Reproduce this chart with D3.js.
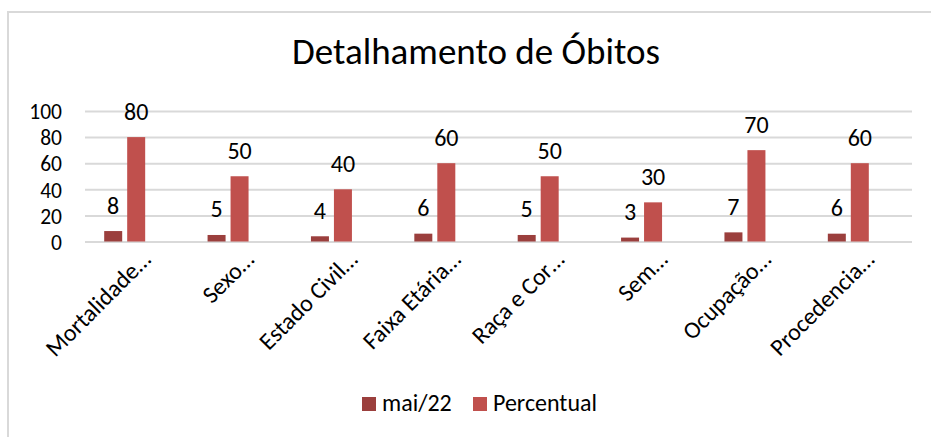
<!DOCTYPE html>
<html><head><meta charset="utf-8">
<script src="https://cdn.jsdelivr.net/npm/d3@7/dist/d3.min.js"></script>
<style>
html,body{margin:0;padding:0;background:#fff;}
svg text{font-family:Carlito, Calibri, Lato, "Open Sans", sans-serif;fill:#000;}
</style></head>
<body><svg id="chart" width="931" height="437"></svg>
<script>
const title = "Detalhamento de Óbitos";
const categories = ["Mortalidade…","Sexo…","Estado Civil…","Faixa Etária…","Raça e Cor…","Sem…","Ocupação…","Procedencia…"];
const seriesNames = ["mai/22","Percentual"];
const mai22 = [8,5,4,6,5,3,7,6];
const percentual = [80,50,40,60,50,30,70,60];
const yTicks = [0,20,40,60,80,100];
const colors = ["#9b3f3d","#c0504d"];

const svg = d3.select("#chart");
svg.append("rect").attr("x",8).attr("y",12).attr("width",940).attr("height",440)
  .attr("fill","#fff").attr("stroke","#d9d9d9").attr("stroke-width",2);

svg.append("text").attr("x",476).attr("y",64).attr("text-anchor","middle")
  .attr("font-size",37).text(title);

const y = d3.scaleLinear().domain([0,100]).range([241.5,111]);
const x = d3.scaleBand().domain(categories).range([73,900]);
const xi = d3.scaleBand().domain(seriesNames).range([0,x.bandwidth()]).paddingInner(0.217).paddingOuter(1.357);

const grid = svg.append("g").attr("transform","translate(85,0)")
  .call(d3.axisLeft(y).tickValues(yTicks).tickSize(-827).tickFormat(""));
grid.select(".domain").remove();
grid.selectAll("line").attr("stroke","#d9d9d9").attr("stroke-width",2);

const ya = svg.append("g").attr("transform","translate(62,0)")
  .call(d3.axisLeft(y).tickValues(yTicks).tickSize(0).tickPadding(0));
ya.select(".domain").remove();
ya.selectAll("text").attr("font-size",21.5).attr("dy","0.36em").attr("fill","#000");

const data = categories.map((c,i)=>({c, vals:[mai22[i], percentual[i]]}));
const groups = svg.append("g").selectAll("g").data(data).join("g")
  .attr("transform",d=>`translate(${x(d.c)},0)`);
groups.selectAll("rect").data(d=>d.vals.map((v,j)=>({v,s:seriesNames[j],j}))).join("rect")
  .attr("x",d=>xi(d.s)).attr("width",xi.bandwidth())
  .attr("y",d=>y(d.v)).attr("height",d=>y(0)-y(d.v))
  .attr("fill",d=>colors[d.j]);
groups.selectAll("text.lab").data(d=>d.vals.map((v,j)=>({v,s:seriesNames[j],j}))).join("text")
  .attr("class","lab").attr("font-size",24).attr("text-anchor","middle")
  .attr("x",d=>xi(d.s)+xi.bandwidth()/2).attr("y",d=>y(d.v)-17.5).text(d=>d.v);

const xa = svg.append("g");
xa.selectAll("text").data(categories).join("text")
  .attr("font-size",24).attr("text-anchor","end")
  .attr("transform",d=>`translate(${x(d)+x.bandwidth()/2+27.5},261) rotate(-45)`)
  .text(d=>d);

const legend = svg.append("g");
const lx = [362,473];
seriesNames.forEach((s,i)=>{
  legend.append("rect").attr("x",lx[i]).attr("y",397).attr("width",14).attr("height",14).attr("fill",colors[i]);
  legend.append("text").attr("x",lx[i]+20).attr("y",411).attr("font-size",24).text(s);
});
</script></body></html>
